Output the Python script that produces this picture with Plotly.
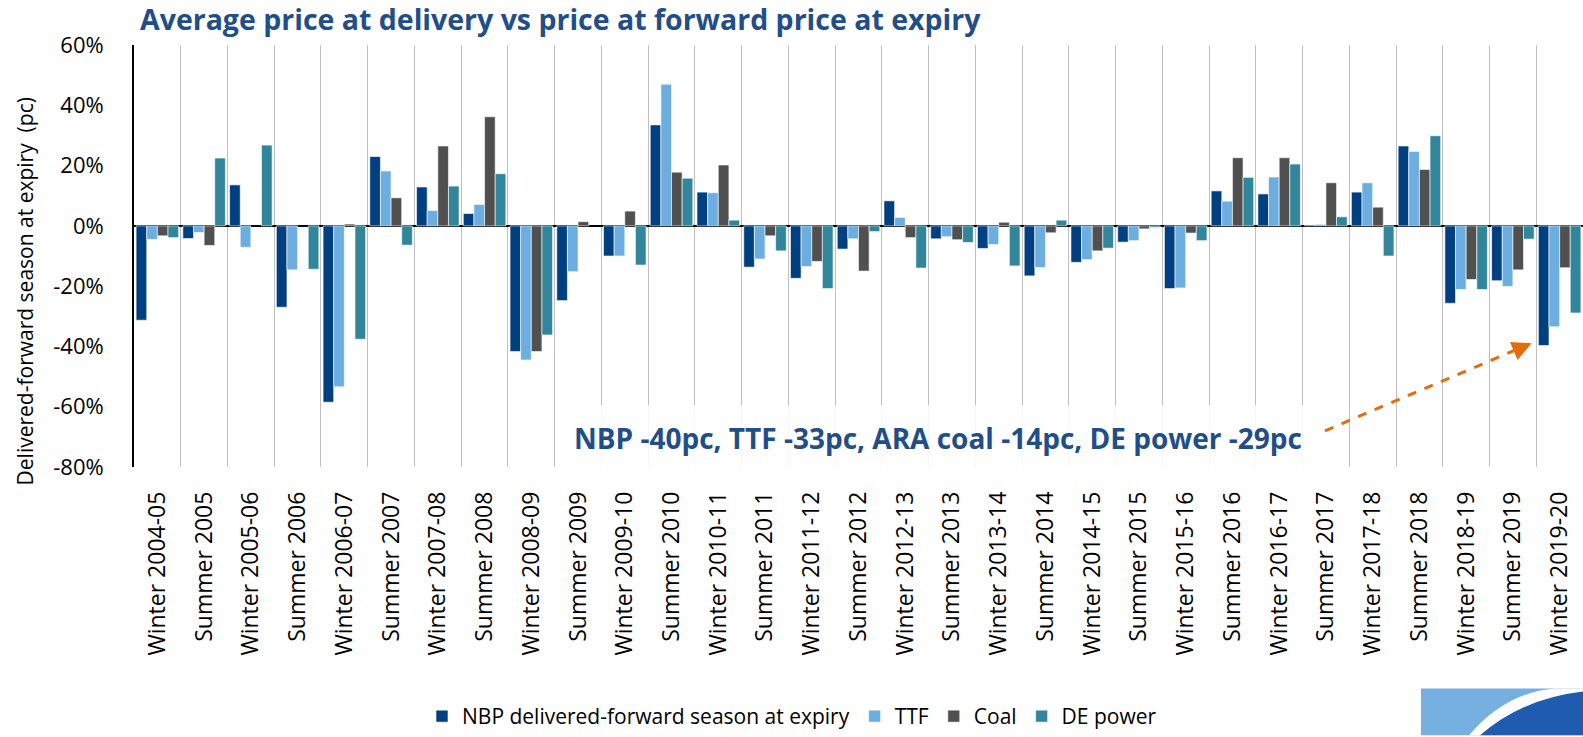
import plotly.graph_objects as go

categories = [
    "Winter 2004-05", "Summer 2005", "Winter 2005-06", "Summer 2006", "Winter 2006-07",
    "Summer 2007", "Winter 2007-08", "Summer 2008", "Winter 2008-09", "Summer 2009",
    "Winter 2009-10", "Summer 2010", "Winter 2010-11", "Summer 2011", "Winter 2011-12",
    "Summer 2012", "Winter 2012-13", "Summer 2013", "Winter 2013-14", "Summer 2014",
    "Winter 2014-15", "Summer 2015", "Winter 2015-16", "Summer 2016", "Winter 2016-17",
    "Summer 2017", "Winter 2017-18", "Summer 2018", "Winter 2018-19", "Summer 2019",
    "Winter 2019-20",
]

nbp = [-31.3, -4.2, 13.6, -27.0, -58.5, 23.0, 12.9, 4.1, -41.7, -24.8, -10.0, 33.5, 11.2,
       -13.7, -17.4, -7.7, 8.3, -4.3, -7.5, -16.6, -12.1, -5.4, -20.8, 11.6, 10.6, 0.3,
       11.2, 26.5, -25.7, -18.2, -39.7]
ttf = [-4.5, -2.2, -7.1, -14.6, -53.4, 18.2, 5.1, 7.1, -44.5, -15.2, -10.0, 47.0, 11.0,
       -11.0, -13.5, -4.3, 2.8, -3.6, -6.2, -13.8, -11.2, -4.9, -20.6, 8.2, 16.2, 0.5,
       14.3, 24.7, -21.1, -20.1, -33.5]
coal = [-3.3, -6.5, None, None, 0.6, 9.3, 26.5, 36.2, -41.7, 1.4, 4.9, 17.8, 20.2,
        -3.3, -11.8, -15.0, -3.9, -4.6, 1.2, -2.3, -8.3, -1.0, -2.4, 22.6, 22.6, 14.3,
        6.2, 18.7, -17.8, -14.6, -13.9]
de_power = [-3.9, 22.5, 26.8, -14.4, -37.6, -6.4, 13.2, 17.3, -36.2, None, -13.0, 15.8, 1.9,
            -8.3, -20.8, -1.9, -14.0, -5.5, -13.3, 1.9, -7.4, -0.5, -4.9, 16.1, 20.5, 3.0,
            -10.0, 29.9, -21.1, -4.4, -28.9]

series_names = ["NBP delivered-forward season at expiry", "TTF", "Coal", "DE power"]
series_values = [nbp, ttf, coal, de_power]
series_colors = ["#004080", "#6CAEE0", "#505050", "#31869B"]

y_ticks = [60, 40, 20, 0, -20, -40, -60, -80]
y_tick_labels = ["60%", "40%", "20%", "0%", "-20%", "-40%", "-60%", "-80%"]

title_text = "Average price at delivery vs price at forward price at expiry"
note_text = "NBP -40pc, TTF -33pc, ARA coal -14pc, DE power -29pc"
y_title = "Delivered-forward season at expiry  (pc)"

W, H = 1583, 737
L, R, T, B = 134, 0, 45, 269
PW, PH = W - L - R, H - T - B


def px(x):
    return (x - L) / PW


def py(y):
    return (H - B - y) / PH


FONT = "Open Sans"

fig = go.Figure()
for name, vals, col in zip(series_names, series_values, series_colors):
    fig.add_trace(go.Bar(
        x=categories, y=vals, name=name,
        marker=dict(color=col, line=dict(color="white", width=0.6)),
    ))

fig.update_layout(
    width=W, height=H,
    margin=dict(l=L, r=R, t=T, b=B, pad=0),
    plot_bgcolor="white", paper_bgcolor="white",
    barmode="group", bargap=0.09, bargroupgap=0,
    font=dict(family=FONT, color="black"),
    title=dict(text="<b>" + title_text + "</b>", x=140 / W, xanchor="left",
               xref="container", y=1 - 20 / H, yref="container", yanchor="middle",
               font=dict(family=FONT, size=28.5, color="#1F4E89")),
    showlegend=True,
    legend=dict(orientation="h", x=px(792), xanchor="center", y=py(718), yanchor="middle",
                font=dict(family=FONT, size=21, color="black"), traceorder="normal",
                itemwidth=30),
)

fig.update_xaxes(
    type="category", range=[-0.5, len(categories) - 0.5],
    tickson="boundaries", showgrid=True, gridcolor="#BFBFBF", gridwidth=1.2,
    tickangle=-90, tickfont=dict(family=FONT, size=23, color="black"),
    ticks="", ticklabelstandoff=19, showline=False, zeroline=False,
)
fig.update_yaxes(
    range=[-80, 60], tickvals=y_ticks, ticktext=y_tick_labels,
    tickfont=dict(family=FONT, size=22, color="black"),
    showgrid=False, zeroline=True, zerolinecolor="black", zerolinewidth=1.8,
    showline=True, linecolor="black", linewidth=1.8, ticks="", ticklabelstandoff=24,
)

# y-axis title
fig.add_annotation(text=y_title, xref="paper", yref="paper", x=px(25), y=py(292),
                   textangle=-90, showarrow=False, xanchor="center", yanchor="middle",
                   font=dict(family=FONT, size=21, color="black"))

# white box behind the note
fig.add_shape(type="rect", xref="paper", yref="paper", x0=px(558), x1=px(1305),
              y0=py(406), y1=py(468), fillcolor="rgba(255,255,255,0.88)", line=dict(width=0),
              layer="above")
fig.add_annotation(text="<b>" + note_text + "</b>", xref="paper", yref="paper",
                   x=px(938), y=py(439), showarrow=False, xanchor="center", yanchor="middle",
                   font=dict(family=FONT, size=28, color="#1F4E89"))

# dashed orange arrow
fig.add_shape(type="line", xref="paper", yref="paper", x0=px(1325), y0=py(431.7),
              x1=px(1516), y1=py(350.5), line=dict(color="#E46C0A", width=3, dash="dash"),
              layer="above")
fig.add_annotation(text="", xref="paper", yref="paper", x=px(1531.7), y=py(344),
                   ax=-17, ay=7.2, showarrow=True, arrowhead=2, arrowsize=1.3,
                   arrowwidth=3, arrowcolor="#E46C0A")

# logo at bottom-right
fig.add_shape(type="rect", xref="paper", yref="paper", x0=px(1421), x1=px(1583),
              y0=py(737), y1=py(690), fillcolor="#76B0E0", line=dict(width=0), layer="above")
fig.add_shape(type="path", xref="paper", yref="paper",
              path=f"M {px(1469)},{py(737)} Q {px(1505)},{py(694)} {px(1555)},{py(690)} "
                   f"L {px(1583)},{py(690)} L {px(1583)},{py(737)} Z",
              fillcolor="white", line=dict(width=0), layer="above")
fig.add_shape(type="path", xref="paper", yref="paper",
              path=f"M {px(1480)},{py(737)} Q {px(1522)},{py(700)} {px(1583)},{py(693)} "
                   f"L {px(1583)},{py(737)} Z",
              fillcolor="#1F5BAF", line=dict(width=0), layer="above")

fig.write_html("out.html", config={"displayModeBar": False},
               post_script="document.body.style.margin='0';document.body.style.overflow='hidden';")
